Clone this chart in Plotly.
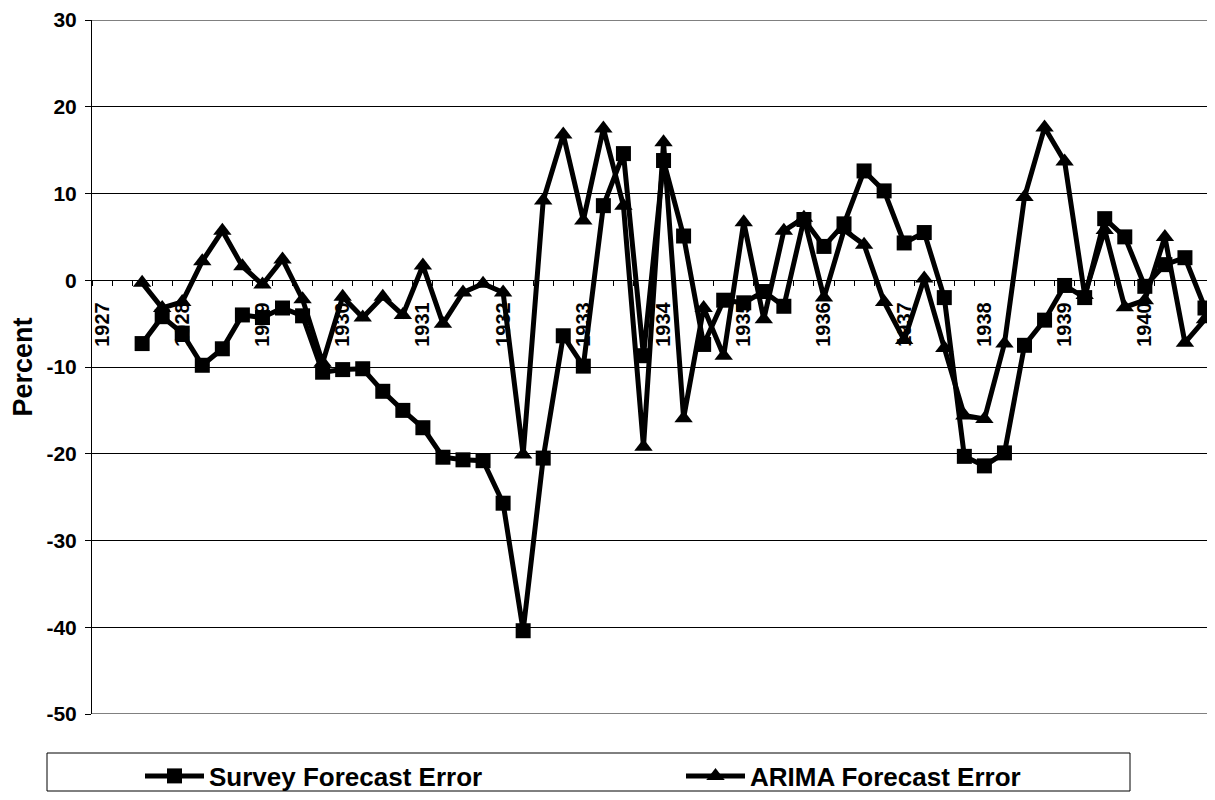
import plotly.graph_objects as go

# quarterly categories 1927 Q1 .. 1940 Q4
years = list(range(1927, 1941))
quarters = [f"{y} Q{q}" for y in years for q in range(1, 5)]
tick_text = [q.split()[0] if q.endswith("Q1") else "" for q in quarters]

y_ticks = [30, 20, 10, 0, -10, -20, -30, -40, -50]
y_tick_text = [str(v) for v in y_ticks]   # plain hyphen, like the original

# first two quarters have no observation
survey_error = [
    None, None,
    -7.3, -4.2, -6.1, -9.8, -7.9, -4.0, -4.3, -3.2, -4.1, -10.6,
    -10.3, -10.2, -12.8, -15.0, -17.0, -20.4, -20.7, -20.8, -25.7, -40.4,
    -20.5, -6.4, -9.9, 8.6, 14.6, -8.7, 13.8, 5.1, -7.4, -2.3,
    -2.6, -1.3, -3.0, 7.0, 3.9, 6.5, 12.6, 10.3, 4.3, 5.5,
    -2.0, -20.3, -21.4, -19.9, -7.5, -4.6, -0.6, -2.0, 7.1, 5.0,
    -0.7, 1.8, 2.6, -3.2,
]
arima_error = [
    None, None,
    -0.3, -3.2, -2.5, 2.2, 5.7, 1.6, -0.5, 2.4, -2.2, -9.5,
    -1.9, -4.3, -1.9, -4.0, 1.7, -5.0, -1.4, -0.4, -1.4, -20.1,
    9.2, 16.8, 6.9, 17.5, 8.6, -19.2, 15.9, -15.9, -3.2, -8.7,
    6.7, -4.5, 5.7, 7.2, -2.0, 5.8, 4.1, -2.5, -6.9, 0.2,
    -7.8, -15.6, -16.0, -7.3, 9.6, 17.6, 13.7, -1.7, 5.8, -3.1,
    -2.3, 5.0, -7.2, -4.5,
]

FONT = "Liberation Sans, Arial, sans-serif"
# the page body has an 8px margin, so the figure is 16px smaller than the window
W, H = 1199, 784
ML, MR, MT, MB = 84, 0, 12, 78
pw, ph = W - ML - MR, H - MT - MB


def px(x):
    # page pixel -> paper fraction
    return (x - 8 - ML) / pw


def py(y):
    return (H - MB - (y - 8)) / ph


fig = go.Figure()
fig.add_trace(go.Scatter(
    x=quarters, y=survey_error, mode="lines+markers", name="Survey Forecast Error",
    line=dict(color="black", width=5), cliponaxis=False, legend="legend",
    marker=dict(symbol="square", size=15, color="black"),
))
fig.add_trace(go.Scatter(
    x=quarters, y=arima_error, mode="lines+markers", name="ARIMA Forecast Error",
    line=dict(color="black", width=5), cliponaxis=False, legend="legend2",
    marker=dict(symbol="triangle-up", size=16, color="black"),
))

# plot area top/bottom borders and the legend frame
fig.add_shape(type="line", xref="paper", yref="y", x0=0, x1=1, y0=30, y1=30,
              line=dict(color="#808080", width=2))
fig.add_shape(type="line", xref="paper", yref="y", x0=0, x1=1, y0=-50, y1=-50,
              line=dict(color="#808080", width=2))
fig.add_shape(type="rect", xref="paper", yref="paper",
              x0=px(47), x1=px(1130), y0=py(753), y1=py(791),
              line=dict(color="black", width=1), fillcolor="rgba(0,0,0,0)")

fig.update_xaxes(
    type="category", categoryorder="array", categoryarray=quarters,
    range=[-0.5, len(quarters) - 0.9],
    tickmode="array", tickvals=quarters, ticktext=tick_text,
    tickson="boundaries", ticks="outside", ticklen=5, tickcolor="black",
    tickangle=-90, ticklabelstandoff=13,
    showline=True, linecolor="black", linewidth=1, showgrid=False,
    anchor="free", position=50 / 80, automargin=False,
    tickfont=dict(family=FONT, size=20, color="black", weight="bold"),
)
fig.update_yaxes(
    range=[-50, 30], tickmode="array", tickvals=y_ticks, ticktext=y_tick_text,
    showgrid=True, gridcolor="black", gridwidth=1,
    zeroline=False, showline=True, linecolor="black", linewidth=1,
    ticks="outside", ticklen=6, tickcolor="black", ticklabelstandoff=4,
    ticklabeloverflow="allow", automargin=False,
    tickfont=dict(family=FONT, size=21, color="black", weight="bold"),
    title=dict(text="Percent", standoff=23,
               font=dict(family=FONT, size=27, color="black", weight="bold")),
)

legend_style = dict(
    orientation="h", xanchor="left", y=py(776), yanchor="middle",
    itemwidth=59, bgcolor="rgba(0,0,0,0)", borderwidth=0,
    font=dict(family=FONT, size=26, color="black", weight="bold"),
)
fig.update_layout(
    width=W, height=H,
    margin=dict(l=ML, r=MR, t=MT, b=MB, autoexpand=False),
    paper_bgcolor="white", plot_bgcolor="white",
    showlegend=True,
    legend=dict(x=px(140), **legend_style),
    legend2=dict(x=px(681), **legend_style),
)

fig.write_html("out.html")
